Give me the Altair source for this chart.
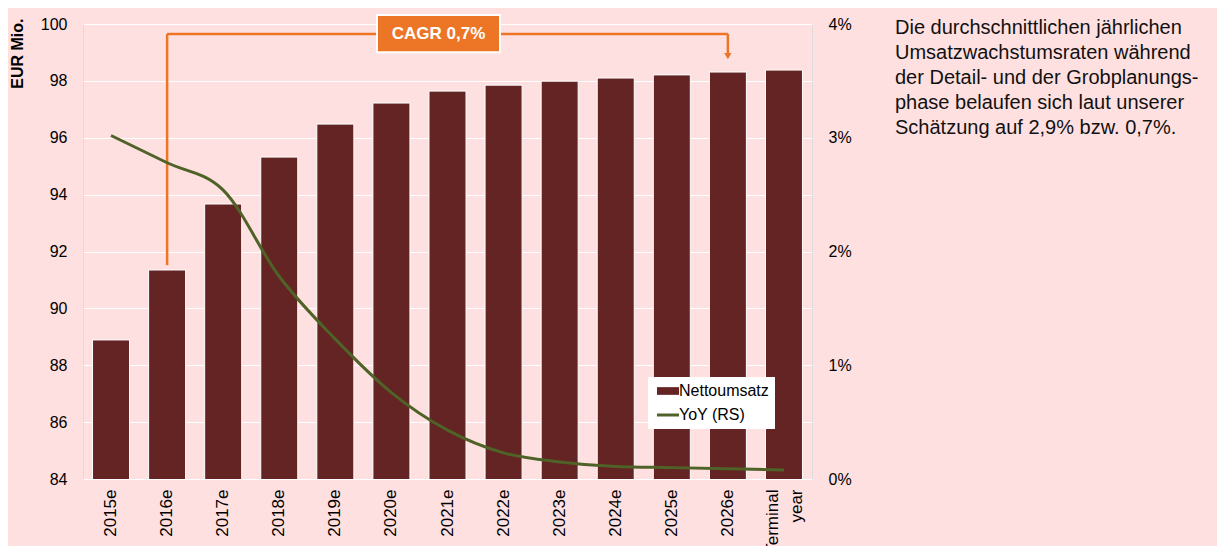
import altair as alt
import pandas as pd

categories = ["2015e", "2016e", "2017e", "2018e", "2019e", "2020e", "2021e",
              "2022e", "2023e", "2024e", "2025e", "2026e", "Terminal year"]
revenue = [88.89, 91.35, 93.67, 95.32, 96.48, 97.22, 97.64, 97.85, 97.99,
           98.10, 98.21, 98.31, 98.38]
yoy_pct = [3.02, 2.78, 2.54, 1.78, 1.23, 0.76, 0.43, 0.23, 0.15, 0.11, 0.10,
           0.09, 0.08]
series_names = ["Nettoumsatz", "YoY (RS)"]
side_text = ["Die durchschnittlichen jährlichen",
             "Umsatzwachstumsraten während",
             "der Detail- und der Grobplanungs-",
             "phase belaufen sich laut unserer",
             "Schätzung auf 2,9% bzw. 0,7%."]
cagr_label = "CAGR 0,7%"
cagr_from, cagr_to, cagr_box_at = "2016e", "2026e", "2021e"
bracket_level = 99.65
bracket_start = 91.52
arrow_stem_end = 98.95
arrow_tip = 98.87
box_top, box_bottom = 100.32, 99.01

BG = "#FFE0E0"
BAR = "#632423"
GREEN = "#4F6228"
ORANGE = "#EC7625"
FONT = "Liberation Sans"

df = pd.DataFrame({
    "cat": categories,
    "revenue": revenue,
    "yoy": [v / 100 for v in yoy_pct],
    "s_bar": [series_names[0]] * len(categories),
    "s_line": [series_names[1]] * len(categories),
})

xscale = alt.Scale(domain=categories, paddingInner=0.34, paddingOuter=0.17)

xenc = alt.X(
    "cat:N", scale=xscale, title=None,
    axis=alt.Axis(labelAngle=270, labelAlign="right", labelBaseline="middle",
                  labelPadding=10, labelFontSize=17, labelColor="black",
                  ticks=False, domain=False, grid=False, labelLineHeight=24,
                  labelOffset={"condition": {"test": "datum.value == 'Terminal year'",
                                             "value": -11}, "value": 0},
                  labelExpr="datum.label == 'Terminal year' ? ['Terminal', 'year'] : datum.label"),
)


def xc():
    return alt.X("cat:N", scale=xscale)


yleft_scale = alt.Scale(domain=[84, 100], nice=False, zero=False)

NB = "\u00a0"
is_line = "datum.value === '" + series_names[1] + "'"
color_scale = alt.Scale(domain=series_names, range=[BAR, GREEN])
legend = alt.Legend(
    title=None, orient="none", legendX=565, legendY=353,
    fillColor="white", padding=6, labelFontSize=16, labelColor="black",
    labelFont=FONT, symbolSize=484, rowPadding=8, labelOffset=3,
    symbolOpacity=1, symbolOffset=6,
    labelExpr="datum.label + '" + NB * 7 + "'",
    symbolType={"expr": is_line + " ? 'stroke' : 'M-1,-0.35L1,-0.35L1,0.35L-1,0.35Z'"},
    symbolFillColor={"expr": is_line + " ? 'transparent' : '" + BAR + "'"},
    symbolStrokeColor={"expr": is_line + " ? '" + GREEN + "' : '" + BAR + "'"},
    symbolStrokeWidth={"expr": is_line + " ? 3 : 0"},
)

base = alt.Chart(df)

bars = base.mark_bar(stroke="white", strokeWidth=1, clip=True).encode(
    x=xenc,
    y=alt.Y("revenue:Q", scale=yleft_scale, title="EUR Mio.",
            axis=alt.Axis(values=list(range(84, 101, 2)), grid=True,
                          gridColor="white", gridWidth=1, domain=False,
                          ticks=False, labelPadding=16, labelFontSize=16,
                          labelColor="black", titleFontSize=16,
                          titleFontWeight="bold", titleColor="black",
                          titleAngle=270, titleAlign="right",
                          titleBaseline="middle", titleX=-66, titleY=-6)),
    color=alt.Color("s_bar:N", scale=color_scale, legend=legend),
)

vrules = alt.Chart(pd.DataFrame({
    "cat": [cagr_from, cagr_to],
    "y": [bracket_start, bracket_level],
    "y2": [bracket_level, arrow_stem_end],
})).mark_rule(color=ORANGE, strokeWidth=2.5).encode(
    x=xc(),
    y=alt.Y("y:Q", scale=yleft_scale),
    y2="y2:Q",
)

hrule = alt.Chart(pd.DataFrame({
    "cat": [cagr_from], "cat2": [cagr_to], "y": [bracket_level],
})).mark_rule(color=ORANGE, strokeWidth=2.5).encode(
    x=xc(),
    x2="cat2:N",
    y=alt.Y("y:Q", scale=yleft_scale),
)

arrow = alt.Chart(pd.DataFrame({"cat": [cagr_to], "y": [arrow_tip]})).mark_point(
    shape="triangle-down", filled=True, color=ORANGE, size=55, opacity=1
).encode(
    x=xc(),
    y=alt.Y("y:Q", scale=yleft_scale),
)

box_df = pd.DataFrame({"cat": [cagr_box_at], "y": [box_top], "y2": [box_bottom],
                       "ym": [(box_top + box_bottom) / 2], "label": [cagr_label]})
box = alt.Chart(box_df).mark_bar(
    width=123, xOffset=-9, color=ORANGE, stroke="white", strokeWidth=2
).encode(
    x=xc(),
    y=alt.Y("y:Q", scale=yleft_scale),
    y2="y2:Q",
)
box_text = alt.Chart(box_df).mark_text(
    dx=-9, color="white", fontWeight="bold", fontSize=17, font=FONT,
    baseline="middle", align="center"
).encode(
    x=xc(),
    y=alt.Y("ym:Q", scale=yleft_scale),
    text="label:N",
)

side = alt.Chart(pd.DataFrame({"t": [side_text]})).mark_text(
    align="left", baseline="alphabetic", fontSize=20, font=FONT,
    color="#111111", lineHeight=25
).encode(
    x=alt.value(812), y=alt.value(10), text="t",
)

left = alt.layer(bars, vrules, hrule, arrow, box, box_text, side)

line = base.mark_line(strokeWidth=3, interpolate="monotone").encode(
    x=xc(),
    y=alt.Y("yoy:Q", scale=alt.Scale(domain=[0, 0.04], nice=False),
            title=None,
            axis=alt.Axis(orient="right", values=[0, 0.01, 0.02, 0.03, 0.04],
                          format=".0%", grid=False, domain=False, ticks=False,
                          labelPadding=16, labelFontSize=16,
                          labelColor="black")),
    color=alt.Color("s_line:N", scale=color_scale, legend=legend),
)

chart = alt.layer(left, line).resolve_scale(y="independent").properties(
    width=729, height=455,
    autosize=alt.AutoSizeParams(type="none"),
    padding={"left": 75, "top": 16, "right": 405, "bottom": 67},
    background=BG,
).configure_view(stroke=None).configure(font=FONT)

chart.save("out.html", embed_options={"renderer": "svg", "actions": False})
